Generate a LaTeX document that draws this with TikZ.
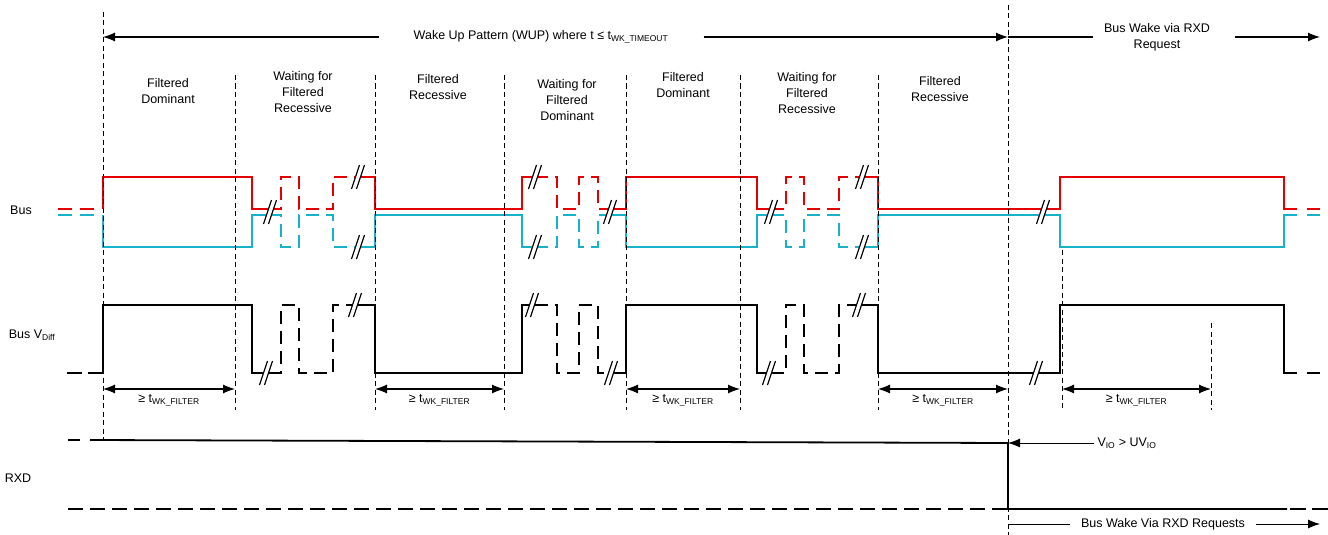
\documentclass[tikz,border=0pt]{standalone}
\usepackage{fontspec}
\setmainfont{Liberation Sans}
\usetikzlibrary{arrows.meta}

\definecolor{busred}{RGB}{228,0,0}
\definecolor{buscyan}{RGB}{22,178,200}
\newcommand{\lsub}[1]{\textsubscript{\fontsize{8.5}{9}\selectfont #1}}

% one level pattern: #1 style, #2 dominant y, #3 recessive y
\newcommand{\wave}[3]{%
  \draw[#1] (103,#3) -- (103,#2) -- (252,#2) -- (252,#3) -- (270,#3);
  \draw[#1,waitdash] (270,#3) -- (281,#3) -- (281,#2) -- (299,#2) -- (299,#3) -- (333,#3) -- (333,#2) -- (358,#2);
  \draw[#1] (358,#2) -- (375,#2) -- (375,#3) -- (522,#3) -- (522,#2) -- (535,#2);
  \draw[#1,waitdash] (535,#2) -- (557,#2) -- (557,#3) -- (579,#3) -- (579,#2) -- (598,#2) -- (598,#3) -- (610,#3);
  \draw[#1] (610,#3) -- (626,#3) -- (626,#2) -- (757,#2) -- (757,#3) -- (771,#3);
  \draw[#1,waitdash] (771,#3) -- (786,#3) -- (786,#2) -- (804,#2) -- (804,#3) -- (839,#3) -- (839,#2) -- (862,#2);
  \draw[#1] (862,#2) -- (878,#2) -- (878,#3) -- (1060,#3) -- (1060,#2) -- (1284,#2) -- (1284,#3) -- (1297,#3);
  \draw[#1] (1307,#3) -- (1320,#3);
}

\begin{document}
\begin{tikzpicture}[x=1pt,y=-1pt,>={Latex[length=12pt,width=9pt]},
  font=\fontsize{12.5}{16}\selectfont,
  sig/.style={line width=1.7pt},
  waitdash/.style={dash pattern=on 13pt off 7pt},
  guide/.style={line width=0.9pt,dash pattern=on 5pt off 3.5pt},
  dimarrow/.style={<->,line width=1.1pt},
  lbl/.style={align=center},
  brk/.pic={
    \fill[white] (-6.5,12) -- (-1.5,12) -- (6.5,-12) -- (1.5,-12) -- cycle;
    \draw[line width=1.2pt] (-6.5,12) -- (1.5,-12) (-1.5,12) -- (6.5,-12);
  }]
\useasboundingbox (0,0) rectangle (1328,535);

%signal names
\node (lbus) at (21,210) {Bus};
\node (lvd) at (32,335) {Bus V\lsub{Diff}};
\node (lrxd) at (18,478) {RXD};

%phases
\node[lbl] (fd1) at (168,91) {Filtered\\Dominant};
\node[lbl] (wr1) at (303,92) {Waiting for\\Filtered\\Recessive};
\node[lbl] (fr1) at (438,87) {Filtered\\Recessive};
\node[lbl] (wd1) at (567,100) {Waiting for\\Filtered\\Dominant};
\node[lbl] (fd2) at (683,85) {Filtered\\Dominant};
\node[lbl] (wr2) at (807,93) {Waiting for\\Filtered\\Recessive};
\node[lbl] (fr2) at (940,89) {Filtered\\Recessive};

%bus lines
\draw[sig,busred] (58,209) -- (72,209) (80,209) -- (94,209);
\draw[sig,buscyan] (58,215) -- (72,215) (80,215) -- (94,215);
\wave{sig,busred}{177}{209}
\wave{sig,buscyan}{247}{215}
\foreach \x in {270,610,771,1043} \pic at (\x,212) {brk};
\foreach \x in {358,535,862} {\pic at (\x,177) {brk}; \pic at (\x,247) {brk};}

%differential
\draw[sig] (67,373) -- (82,373) (88,373) -- (103,373);
\wave{sig}{305}{373}
\foreach \x in {266,611,769,1036} \pic at (\x,373) {brk};
\foreach \x in {355,532,859} \pic at (\x,305) {brk};

%guides
\foreach \x in {235,375,504,626,740,878} \draw[guide] (\x,75) -- (\x,410);
\draw[guide] (103,12) -- (103,440);
\draw[guide] (1008,5) -- (1008,535);
\draw[guide] (1062,250) -- (1062,410);
\draw[guide] (1211,323) -- (1211,410);

%filter times
\foreach \a/\b [count=\i] in {103/235,375/504,626/740,878/1008,1062/1211}{
  \coordinate (fa\i) at (\a,389);
  \coordinate (fb\i) at (\b,389);
  \draw[dimarrow] (fa\i) -- node[below=2pt] (fl\i) {≥ t\lsub{WK\_FILTER}} (fb\i);
}

%top arrows
\coordinate (wupL) at (103,37);
\coordinate (wupR) at (1008,37);
\coordinate (bwrR) at (1320,37);
\node[inner xsep=35pt] (wup) at (541,37) {Wake Up Pattern (WUP) where t ≤ t\lsub{WK\_TIMEOUT}};
\node[lbl,inner xsep=11pt] (bwr) at (1157,37) {Bus Wake via RXD\\Request};
\draw[->,line width=1.1pt] (wup) -- (wupL);
\draw[->,line width=1.1pt] (wup) -- (wupR);
\draw[line width=1.1pt] (wupR) -- (bwr);
\draw[->,line width=1.1pt,shorten <=14pt] (bwr) -- (bwrR);

%RXD
\coordinate (rxH0) at (90,440);
\coordinate (rxH1) at (1008,443);
\coordinate (rxL1) at (1008,509);
\draw[sig] (68,440) -- (80,440);
\draw[line width=1.8pt] (rxH0) -- (rxH1) -- (rxL1) -- (1287,509);
\draw[sig,dash pattern=on 15pt off 7pt] (68,509) -- (1008,509);
\draw[sig,dash pattern=on 16pt off 6pt] (1290,509) -- (1328,509);
\node[anchor=west] (vio) at (1094,443) {V\lsub{IO} > UV\lsub{IO}};
\draw[->,line width=0.8pt] (vio) -- (rxH1);
\coordinate (bwqL) at (1008,524);
\coordinate (bwqR) at (1320,524);
\node[inner xsep=11pt] (bwq) at (1163,524) {Bus Wake Via RXD Requests};
\draw[line width=0.8pt] (bwq) -- (bwqL);
\draw[->,line width=0.8pt] (bwq) -- (bwqR);
\end{tikzpicture}
\end{document}
